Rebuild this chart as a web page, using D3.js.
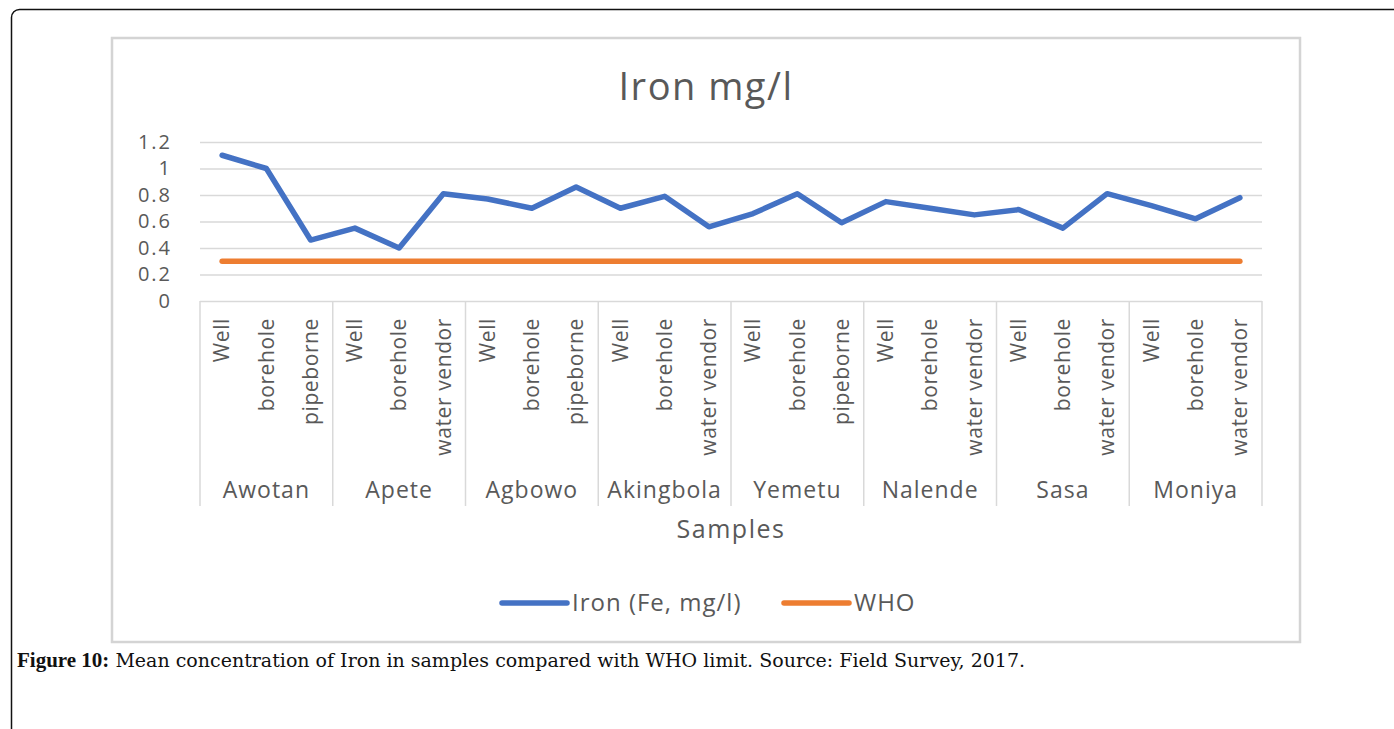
<!DOCTYPE html>
<html lang="en">
<head>
<meta charset="utf-8">
<title>Iron mg/l</title>
<script src="https://d3js.org/d3.v7.min.js"></script>
<style>
  body { margin: 0; background: #fff; }
  text { font-family: "Open Sans", "Noto Sans", sans-serif; }
</style>
</head>
<body>
<div id="chart"></div>
<script>
// data
var regions = ["Awotan", "Apete", "Agbowo", "Akingbola", "Yemetu", "Nalende", "Sasa", "Moniya"];
var sources = [
  "Well", "borehole", "pipeborne",
  "Well", "borehole", "water vendor",
  "Well", "borehole", "pipeborne",
  "Well", "borehole", "water vendor",
  "Well", "borehole", "pipeborne",
  "Well", "borehole", "water vendor",
  "Well", "borehole", "water vendor",
  "Well", "borehole", "water vendor"
];
var iron = [1.1, 1.0, 0.46, 0.55, 0.4, 0.81, 0.77, 0.7, 0.86, 0.7, 0.79, 0.56,
            0.66, 0.81, 0.59, 0.75, 0.7, 0.65, 0.69, 0.55, 0.81, 0.72, 0.62, 0.78];
var whoLimit = 0.3;
var yTicks = [0, 0.2, 0.4, 0.6, 0.8, 1, 1.2];

var w = 1394, h = 729;
var plotLeft = 200, plotRight = 1262, plotTop = 142, plotBottom = 301;
var tableBottom = 506;

var svg = d3.select("#chart").append("svg")
  .attr("width", w).attr("height", h);

// outer page frame
svg.append("rect")
  .attr("x", 11.5).attr("y", 9.5)
  .attr("width", 1420).attr("height", 760)
  .attr("rx", 8)
  .attr("fill", "none").attr("stroke", "#111").attr("stroke-width", 1.5);

// chart area box
svg.append("rect")
  .attr("x", 112).attr("y", 38)
  .attr("width", 1188).attr("height", 604)
  .attr("fill", "#fff").attr("stroke", "#d4d4d4").attr("stroke-width", 2.5);

var idx = d3.range(iron.length);
var xScale = d3.scalePoint().domain(idx).range([plotLeft, plotRight]).padding(0.5);
var step = xScale.step();
var yScale = d3.scaleLinear().domain([0, 1.2]).range([plotBottom, plotTop]);

// gridlines + y labels
var yAxis = d3.axisLeft(yScale)
  .tickValues(yTicks)
  .tickFormat(function(d) { return String(d); })
  .tickSize(-(plotRight - plotLeft))
  .tickPadding(28);

var gy = svg.append("g")
  .attr("transform", "translate(" + plotLeft + ",0)")
  .call(yAxis);
gy.select(".domain").remove();
gy.selectAll(".tick line").attr("stroke", "#d9d9d9").attr("stroke-width", 1.5);
gy.selectAll(".tick text")
  .attr("fill", "#595959")
  .style("font-family", "'Open Sans', sans-serif")
  .style("font-size", "20px")
  .style("letter-spacing", "2px");

// category table lines
var bounds = d3.range(regions.length + 1).map(function(g) {
  return g < regions.length ? xScale(g * 3) - step / 2 : plotRight;
});
svg.selectAll(".sep").data(bounds).enter().append("line")
  .attr("class", "sep")
  .attr("x1", function(d) { return d; }).attr("x2", function(d) { return d; })
  .attr("y1", plotBottom).attr("y2", tableBottom)
  .attr("stroke", "#d9d9d9").attr("stroke-width", 1.5);

// rotated source labels
svg.selectAll(".src").data(sources).enter().append("text")
  .attr("class", "src")
  .attr("transform", function(d, i) {
    return "translate(" + xScale(i) + ",318) rotate(-90)";
  })
  .attr("text-anchor", "end")
  .attr("dy", "0.35em")
  .attr("fill", "#595959")
  .style("font-size", "21px")
  .style("letter-spacing", "0.6px")
  .text(function(d) { return d; });

// region labels
svg.selectAll(".reg").data(regions).enter().append("text")
  .attr("class", "reg")
  .attr("x", function(d, g) { return xScale(g * 3 + 1); })
  .attr("y", 490)
  .attr("dy", "0.35em")
  .attr("text-anchor", "middle")
  .attr("fill", "#595959")
  .style("font-size", "23px")
  .style("letter-spacing", "1px")
  .text(function(d) { return d; });

// lines
var line = d3.line()
  .x(function(d, i) { return xScale(i); })
  .y(function(d) { return yScale(d); });

svg.append("path")
  .datum(idx.map(function() { return whoLimit; }))
  .attr("d", line)
  .attr("fill", "none")
  .attr("stroke", "#ED7D31").attr("stroke-width", 5.5)
  .attr("stroke-linecap", "round");

svg.append("path")
  .datum(iron)
  .attr("d", line)
  .attr("fill", "none")
  .attr("stroke", "#4472C4").attr("stroke-width", 5.5)
  .attr("stroke-linejoin", "round")
  .attr("stroke-linecap", "round");

// title and axis title
svg.append("text")
  .attr("x", 706).attr("y", 87).attr("dy", "0.35em")
  .attr("text-anchor", "middle")
  .attr("fill", "#595959")
  .style("font-size", "38px")
  .style("letter-spacing", "1.5px")
  .text("Iron mg/l");

svg.append("text")
  .attr("x", 731).attr("y", 529).attr("dy", "0.35em")
  .attr("text-anchor", "middle")
  .attr("fill", "#595959")
  .style("font-size", "25px")
  .style("letter-spacing", "1.5px")
  .text("Samples");

// legend
var legend = [
  { name: "Iron (Fe, mg/l)", color: "#4472C4", x: 500 },
  { name: "WHO", color: "#ED7D31", x: 782 }
];
var lg = svg.selectAll(".lg").data(legend).enter().append("g")
  .attr("transform", function(d) { return "translate(" + d.x + ",603)"; });
lg.append("line")
  .attr("x1", 2).attr("x2", 67)
  .attr("stroke", function(d) { return d.color; })
  .attr("stroke-width", 5.5).attr("stroke-linecap", "round");
lg.append("text")
  .attr("x", 72).attr("dy", "0.35em")
  .attr("fill", "#595959")
  .style("font-size", "24px")
  .style("letter-spacing", "1px")
  .text(function(d) { return d.name; });

// caption
var cap = svg.append("text")
  .attr("x", 17).attr("y", 667)
  .style("font-size", "19px")
  .attr("fill", "#111");
cap.append("tspan")
  .style("font-family", "'Liberation Serif', serif")
  .style("font-weight", "bold")
  .style("font-size", "21px")
  .text("Figure 10:");
cap.append("tspan")
  .style("font-family", "'DejaVu Serif', serif")
  .style("font-size", "19px")
  .text(" Mean concentration of Iron in samples compared with WHO limit. Source: Field Survey, 2017.");
</script>
</body>
</html>
